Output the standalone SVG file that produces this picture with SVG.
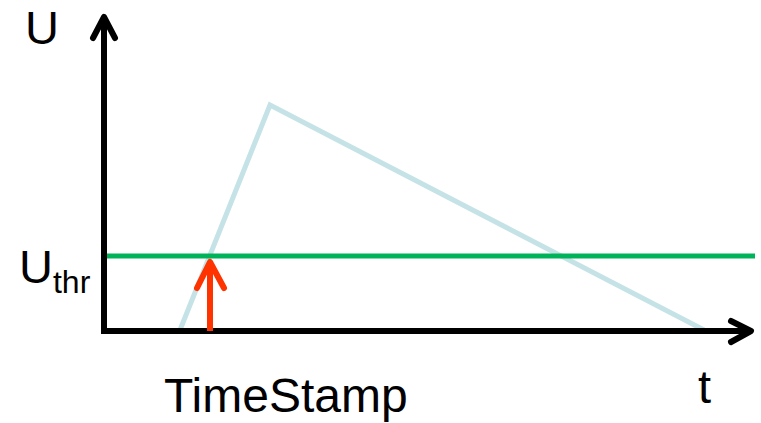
<svg xmlns="http://www.w3.org/2000/svg" width="761" height="423" viewBox="0 0 761 423">
  <style>
    .lbl { font-family: "Liberation Sans", Arial, sans-serif; fill: #000; }
    .axis { stroke: #000; stroke-width: 6; fill: none; stroke-linecap: square; }
    .head { stroke-linecap: round; stroke-linejoin: round; }
  </style>
  <rect width="761" height="423" fill="#fff"/>
  <g id="signal">
    <polyline points="180,330 270,105 704,330" fill="none" stroke="#c5e3e6" stroke-width="5"/>
  </g>
  <g id="threshold">
    <line x1="106" y1="256" x2="755" y2="256" stroke="#00b35a" stroke-width="5"/>
  </g>
  <g id="connectors">
    <g id="y-axis">
      <line class="axis" x1="104" y1="331" x2="104" y2="19"/>
      <polyline class="axis head" points="93,38 104,17 115,38"/>
    </g>
    <g id="x-axis">
      <line class="axis" x1="104" y1="331" x2="749" y2="331"/>
      <polyline class="axis head" points="731,321 751,331 731,342"/>
    </g>
    <g id="timestamp-arrow">
      <line x1="210" y1="331" x2="210" y2="262" stroke="#ff3300" stroke-width="6"/>
      <polyline points="197,288 210,262 224,288" fill="none" stroke="#ff3300" stroke-width="6" stroke-linecap="round" stroke-linejoin="round"/>
    </g>
  </g>
  <g id="labels">
    <text class="lbl" x="25" y="44" font-size="47">U</text>
    <text class="lbl" x="19" y="283" font-size="47">U<tspan font-size="32" dy="10">thr</tspan></text>
    <text class="lbl" x="164" y="412" font-size="48">TimeStamp</text>
    <text class="lbl" x="698" y="403" font-size="47">t</text>
  </g>
</svg>
